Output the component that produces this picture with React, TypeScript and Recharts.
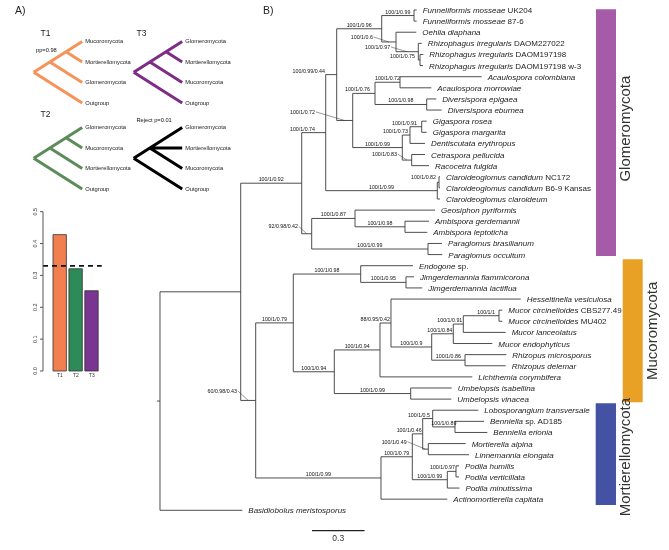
import React from 'react';
import {
  ComposedChart, Line, Scatter, XAxis, YAxis, ReferenceArea, ReferenceLine,
  BarChart, Bar, Cell,
} from 'recharts';

const FONT = '"Liberation Sans", Arial, Helvetica, sans-serif';

// ---------------- Panel A : topology test ----------------
const topologyNames = ['T1', 'T2', 'T3'];
const topologyProbs = [0.428, 0.321, 0.252];
const topologyFills = ['#F27F4F', '#2E8A58', '#7A3492'];
const expectedProb = 0.33;
const probTicks = [0, 0.1, 0.2, 0.3, 0.4, 0.5];

const miniTitles = ['T1', 'T3', 'T2', ''];
const miniNotes = ['pp=0.98', '', '', 'Reject p=0.01'];
const miniColors = ['#F6935A', '#7E2C86', '#5B8C5A', '#000000'];
const miniTopologies: any[] = [
  [[['Mucoromycota', 'Mortierellomycota'], 'Glomeromycota'], 'Outgroup'],
  [[['Glomeromycota', 'Mortierellomycota'], 'Mucoromycota'], 'Outgroup'],
  [[['Glomeromycota', 'Mucoromycota'], 'Mortierellomycota'], 'Outgroup'],
  [['Glomeromycota', 'Mortierellomycota', 'Mucoromycota'], 'Outgroup'],
];

// ---------------- Panel B : phylogeny ----------------
const tipNames = [
  'Funneliformis mosseae', 'Funneliformis mosseae', 'Oehlia diaphana',
  'Rhizophagus irregularis', 'Rhizophagus irregularis', 'Rhizophagus irregularis',
  'Acaulospora colombiana', 'Acaulospora morrowiae', 'Diversispora epigaea',
  'Diversispora eburnea', 'Gigaspora rosea', 'Gigaspora margarita',
  'Dentiscutata erythropus', 'Cetraspora pellucida', 'Racocetra fulgida',
  'Claroideoglomus candidum', 'Claroideoglomus candidum', 'Claroideoglomus claroideum',
  'Geosiphon pyriformis', 'Ambispora gerdemannii', 'Ambispora leptoticha',
  'Paraglomus brasilianum', 'Paraglomus occultum', 'Endogone',
  'Jimgerdemannia flammicorona', 'Jimgerdemannia lactiflua', 'Hesseltinella vesiculosa',
  'Mucor circinelloides', 'Mucor circinelloides', 'Mucor lanceolatus',
  'Mucor endophyticus', 'Rhizopus microsporus', 'Rhizopus delemar',
  'Lichthemia corymbifera', 'Umbelopsis isabellina', 'Umbelopsis vinacea',
  'Lobosporangium transversale', 'Benniella', 'Benniella erionia',
  'Mortierella alpina', 'Linnemannia elongata', 'Podila humilis',
  'Podila verticillata', 'Podila minutissima', 'Actinomortierella capitata',
  'Basidiobolus meristosporus',
];
const tipSuffixes = [
  ' UK204', ' 87-6', '', ' DAOM227022', ' DAOM197198', ' DAOM197198 w-3',
  '', '', '', '', '', '', '', '', '', ' NC172', ' B6-9 Kansas', '', '', '', '', '', '',
  ' sp.', '', '', '', ' CBS277.49', ' MU402', '', '', '', '', '', '', '',
  '', ' sp. AD185', '', '', '', '', '', '', '', '',
];
const tipParents = [
  'funn', 'funn', 'gC', 'rhiz', 'rhiz2', 'rhiz2', 'acau', 'acau', 'div', 'div',
  'giga', 'giga', 'gG', 'gH', 'gH', 'clar2', 'clar2', 'clar', 'gGA', 'amb', 'amb',
  'para', 'para', 'endo', 'jimg', 'jimg', 'm88', 'circ', 'circ', 'mucor2', 'mucor',
  'rhizo', 'rhizo', 'mu2a', 'umb', 'umb', 'm05', 'benn', 'benn', 'm049', 'm049',
  'podi2', 'podi2', 'podi', 'mort', 'root',
];
const tipDepths = [
  1.4643, 1.4643, 1.4621, 1.4929, 1.5020, 1.5003, 1.8352, 1.5476, 1.5762, 1.6070,
  1.5214, 1.5214, 1.5117, 1.5117, 1.5345, 1.5973, 1.5973, 1.5973, 1.5687, 1.5345,
  1.5248, 1.6087, 1.6104, 1.4432, 1.4489, 1.4963, 2.0576, 1.9527, 1.9527, 1.9721,
  1.8956, 1.9755, 1.9721, 1.7815, 1.6640, 1.6617, 1.8158, 1.8483, 1.8671, 1.7439,
  1.7627, 1.7057, 1.7057, 1.7085, 1.6389, 0.4695,
];
const nodeIds = [
  'root', 'n1', 'glom', 'gA', 'gB', 'gB1', 'funn', 'gC', 'rhiz', 'rhiz2',
  'gD', 'gE', 'acau', 'div', 'gF', 'gG', 'giga', 'gH', 'clar', 'clar2',
  'g92', 'gGA', 'amb', 'para', 'mm', 'muco', 'endo', 'jimg', 'mu2', 'mu2a',
  'm88', 'mucrh', 'mucor', 'mucor2', 'circ', 'rhizo', 'umb', 'mort', 'm1', 'm2',
  'm05', 'benn', 'm049', 'podi', 'podi2',
];
const nodeParents = [
  '', 'root', 'n1', 'glom', 'gA', 'gB', 'gB1', 'gB1', 'gC', 'rhiz',
  'gB', 'gD', 'gE', 'gE', 'gD', 'gF', 'gG', 'gF', 'gA', 'clar',
  'glom', 'g92', 'gGA', 'g92', 'n1', 'mm', 'muco', 'endo', 'muco', 'mu2',
  'mu2a', 'm88', 'mucrh', 'mucor', 'mucor2', 'mucrh', 'mu2', 'mm', 'mort', 'm1',
  'm2', 'm05', 'm2', 'm1', 'podi',
];
const nodeDepths = [
  0, 0.4604, 0.8083, 0.9453, 1.0080, 1.2647, 1.4490, 1.3463, 1.4735, 1.4832,
  1.0993, 1.2265, 1.3691, 1.5214, 1.3822, 1.4261, 1.4929, 1.4358, 1.5818, 1.5916,
  0.8654, 1.1124, 1.3976, 1.5288, 0.5459, 0.7604, 1.1449, 1.4033, 0.9943, 1.2550,
  1.3177, 1.5499, 1.6731, 1.7302, 1.9338, 1.7399, 1.4301, 1.2607, 1.4393, 1.4986,
  1.5556, 1.6828, 1.5305, 1.6389, 1.6885,
];
const nodeSupports = [
  '', '', '100/1/0.92', '100/1/0.74', '100/0.99/0.44', '100/1/0.96', '100/1/0.99', '100/1/0.6', '100/1/0.97', '100/1/0.75',
  '100/1/0.72', '100/1/0.76', '100/1/0.72', '100/1/0.98', '100/1/0.99', '100/1/0.73', '100/1/0.91', '100/1/0.83', '100/1/0.99', '100/1/0.82',
  '92/0.98/0.42', '100/1/0.87', '100/1/0.98', '100/1/0.99', '60/0.98/0.43', '100/1/0.79', '100/1/0.98', '100/1/0.95', '100/1/0.94', '100/1/0.94',
  '88/0.95/0.42', '100/1/0.9', '100/1/0.84', '100/1/0.91', '100/1/1', '100/1/0.86', '100/1/0.99', '100/1/0.99', '100/1/0.79', '100/1/0.46',
  '100/1/0.5', '100/1/0.89', '100/1/0.49', '100/1/0.99', '100/1/0.97',
];
const rootEdge = 0.017;
const scaleBarLength = 0.3;
const scaleBarStart = 0.8669;
const scaleBarRow = 46.83;

const cladeNames = ['Glomeromycota', 'Mucoromycota', 'Mortierellomycota'];
const cladeColors = ['#A55BA7', '#E9A125', '#4352A3'];
const cladeFrom = [-0.06, 22.42, 35.38];
const cladeTo = [22.13, 35.29, 44.52];
const cladeX1 = [2.4872, 2.6395, 2.4855];
const cladeX2 = [2.6012, 2.7536, 2.6012];

// ---------------- label placement (style only) ----------------
const labelLayout: Record<string, { m: 'c' | 'e' | 'l'; dx?: number; dy?: number }> = {
  gA: { m: 'e', dx: -10.7 },
  gB: { m: 'e', dx: -11.7 },
  gC: { m: 'l', dx: -16, dy: -5 },
  rhiz: { m: 'l', dx: -17, dy: -4.7 },
  rhiz2: { m: 'e', dx: -5 },
  gD: { m: 'l', dx: -29.7, dy: -8.6 },
  gE: { m: 'e', dx: -5 },
  gG: { m: 'e', dx: -2 },
  giga: { m: 'e', dx: -4.7 },
  gH: { m: 'l', dx: -10, dy: -6 },
  clar2: { m: 'e', dx: -3, dy: -3.5 },
  g92: { m: 'l', dx: -8.7, dy: -7.3 },
  mm: { m: 'l', dx: -11.2, dy: -9.5 },
  m88: { m: 'e', dx: -1 },
  mucor: { m: 'e', dx: -1 },
  mucor2: { m: 'e', dx: -1 },
  circ: { m: 'e', dx: -4 },
  m2: { m: 'e', dx: -1 },
  m05: { m: 'e', dx: -2.7 },
  m049: { m: 'l', dx: -18.8, dy: -7.3 },
  podi2: { m: 'e', dx: -1 },
};

// ---------------- tree layout ----------------
const nodeIndex: Record<string, number> = {};
nodeIds.forEach((id, i) => { nodeIndex[id] = i; });
const children: { tip: boolean; i: number }[][] = nodeIds.map(() => []);
tipParents.forEach((p, i) => children[nodeIndex[p]].push({ tip: true, i }));
nodeParents.forEach((p, i) => { if (p) children[nodeIndex[p]].push({ tip: false, i }); });
const nodeY: number[] = [];
const childY = (c: { tip: boolean; i: number }): number => (c.tip ? c.i : getNodeY(c.i));
function getNodeY(i: number): number {
  if (nodeY[i] !== undefined) return nodeY[i];
  const ys = children[i].map(childY);
  nodeY[i] = (Math.min(...ys) + Math.max(...ys)) / 2;
  return nodeY[i];
}
nodeIds.forEach((_, i) => getNodeY(i));

const treeSegments: { x: number; y: number | null }[] = [];
const pushSeg = (x1: number, y1: number, x2: number, y2: number) => {
  treeSegments.push({ x: x1, y: y1 }, { x: x2, y: y2 }, { x: x2, y: null });
};
pushSeg(-rootEdge, nodeY[0], 0, nodeY[0]);
nodeIds.forEach((_, i) => {
  const ch = children[i];
  const ys = ch.map(childY);
  const d = nodeDepths[i];
  pushSeg(d, Math.min(...ys), d, Math.max(...ys));
  ch.forEach((c) => {
    const cy = childY(c);
    const cx = c.tip ? tipDepths[c.i] : nodeDepths[c.i];
    pushSeg(d, cy, cx, cy);
  });
});

const tipData = tipNames.map((n, i) => ({ x: tipDepths[i], y: i, name: n, suffix: tipSuffixes[i] }));
const supportData = nodeIds
  .map((id, i) => {
    if (!nodeSupports[i]) return null;
    const pd = nodeDepths[nodeIndex[nodeParents[i]]];
    const lay = labelLayout[id] || { m: 'c' };
    const x = lay.m === 'e' ? nodeDepths[i] : (pd + nodeDepths[i]) / 2;
    return { x, y: nodeY[i], label: nodeSupports[i], lay };
  })
  .filter(Boolean) as any[];

// ---------------- mini cladograms ----------------
function cladogram(topo: any) {
  const segs: { x: number; y: number | null }[] = [];
  const tips: { x: number; y: number; name: string }[] = [];
  let count = 0;
  const countTips = (t: any): number => (typeof t === 'string' ? 1 : t.reduce((s: number, c: any) => s + countTips(c), 0));
  const half = (countTips(topo) - 1) / 2;
  const place = (t: any): { x: number; y: number; lo: number; hi: number } => {
    if (typeof t === 'string') {
      const y = count++;
      tips.push({ x: 1, y, name: t });
      return { x: 1, y, lo: y, hi: y };
    }
    const ch = t.map(place);
    const lo = ch[0].lo;
    const hi = ch[ch.length - 1].hi;
    const y = (lo + hi) / 2;
    const x = 1 - (hi - lo) / 2 / half;
    ch.forEach((c: any) => segs.push({ x, y }, { x: c.x, y: c.y }, { x: c.x, y: null }));
    return { x, y, lo, hi };
  };
  place(topo);
  return { segs, tips };
}

const UX = 48.5;
const UY = 20.5;
const miniPlacement = [
  { rx: 33.3, ty: 41 },
  { rx: 133.3, ty: 41 },
  { rx: 33.3, ty: 127.3 },
  { rx: 133.3, ty: 127 },
];
const titlePlacement = [
  { x: 40.5, y: 35.5 }, { x: 136.5, y: 35.5 }, { x: 40.5, y: 116.5 }, { x: 0, y: 0 },
];
const notePlacement = [
  { x: 36, y: 52 }, { x: 0, y: 0 }, { x: 0, y: 0 }, { x: 136.5, y: 121.5 },
];

const MiniTipLabel = (props: any) => {
  const { cx, cy, payload } = props;
  return (
    <text x={cx + 3} y={cy} dominantBaseline="central" fontSize={5.8} fontFamily={FONT} fill="#222">
      {payload.name}
    </text>
  );
};

function MiniTree({ idx }: { idx: number }) {
  const { segs, tips } = cladogram(miniTopologies[idx]);
  const pl = miniPlacement[idx];
  return (
    <div style={{ position: 'absolute', left: pl.rx - 0.2 * UX, top: pl.ty - UY }}>
      <ComposedChart width={2.6 * UX} height={5 * UY} margin={{ top: 0, right: 0, bottom: 0, left: 0 }}>
        <XAxis type="number" dataKey="x" domain={[-0.2, 2.4]} hide allowDataOverflow />
        <YAxis type="number" dataKey="y" domain={[-1, 4]} reversed hide allowDataOverflow />
        <Line
          data={segs}
          dataKey="y"
          type="linear"
          stroke={miniColors[idx]}
          strokeWidth={3}
          dot={false}
          activeDot={false}
          connectNulls={false}
          isAnimationActive={false}
        />
        <Scatter data={tips} shape={MiniTipLabel} isAnimationActive={false} />
      </ComposedChart>
    </div>
  );
}

// ---------------- shapes ----------------
const TreeTipLabel = (props: any) => {
  const { cx, cy, payload } = props;
  return (
    <text x={cx + 6} y={cy} dominantBaseline="central" fontSize={8} fontFamily={FONT} fill="#222" style={{ whiteSpace: 'pre' }}>
      <tspan fontStyle="italic" fill="#222">{payload.name}</tspan>
      {payload.suffix ? <tspan fontStyle="normal" fill="#222">{payload.suffix}</tspan> : null}
    </text>
  );
};

const SupportLabel = (props: any) => {
  const { cx, cy, payload } = props;
  const lay = payload.lay;
  const common = { fontSize: 5.3, fontFamily: FONT, fill: '#111' };
  if (lay.m === 'c') {
    return <text x={cx} y={cy - 2} textAnchor="middle" {...common}>{payload.label}</text>;
  }
  if (lay.m === 'e') {
    return <text x={cx + lay.dx} y={cy + (lay.dy ?? -2)} textAnchor="end" {...common}>{payload.label}</text>;
  }
  const tx = cx + lay.dx;
  const ty = cy + lay.dy;
  return (
    <g>
      <text x={tx} y={ty} textAnchor="end" dominantBaseline="central" {...common}>{payload.label}</text>
      <line x1={tx + 0.8} y1={ty} x2={cx} y2={cy} stroke="#333" strokeWidth={0.5} />
    </g>
  );
};

const ProbTick = (props: any) => {
  const { x, y, payload } = props;
  const cx = x - 3;
  return (
    <text x={cx} y={y} transform={`rotate(-90 ${cx} ${y})`} textAnchor="middle" dominantBaseline="central" fontSize={5.5} fontFamily={FONT} fill="#333">
      {Number(payload.value).toFixed(1)}
    </text>
  );
};

const barData = topologyNames.map((n, i) => ({ name: n, p: topologyProbs[i] }));

export default function App() {
  return (
    <div style={{ position: 'absolute', left: 0, top: 0, width: 669, height: 550, background: '#fff', overflow: 'hidden' }}>
      {/* Panel B tree */}
      <div style={{ position: 'absolute', left: 0, top: 0, willChange: 'transform', background: '#fff' }}>
        <ComposedChart width={669} height={550} margin={{ top: 0, right: 0, bottom: 0, left: 0 }}>
          <XAxis type="number" dataKey="x" domain={[-0.9127, 2.9036]} hide allowDataOverflow />
          <YAxis type="number" dataKey="y" domain={[-0.8994, 48.5724]} reversed hide allowDataOverflow />
          {cladeNames.map((name, i) => (
            <ReferenceArea
              key={name}
              x1={cladeX1[i]}
              x2={cladeX2[i]}
              y1={cladeFrom[i]}
              y2={cladeTo[i]}
              fill={cladeColors[i]}
              fillOpacity={1}
              stroke="none"
              ifOverflow="visible"
              label={(p: any) => {
                const vb = p.viewBox;
                const shift = [-4, 0, 3][i];
                const lx = vb.x + vb.width + 9;
                const ly = vb.y + vb.height / 2 + shift;
                return (
                  <text x={lx} y={ly} transform={`rotate(-90 ${lx} ${ly})`} textAnchor="middle" dominantBaseline="central" fontSize={15} fontFamily={FONT} fill="#333">
                    {name}
                  </text>
                );
              }}
            />
          ))}
          <Line
            data={treeSegments}
            dataKey="y"
            type="linear"
            stroke="#3a3a3a"
            strokeWidth={0.9}
            dot={false}
            activeDot={false}
            connectNulls={false}
            isAnimationActive={false}
          />
          <Scatter data={tipData} shape={TreeTipLabel} isAnimationActive={false} />
          <Scatter data={supportData} shape={SupportLabel} isAnimationActive={false} />
          <ReferenceLine
            segment={[{ x: scaleBarStart, y: scaleBarRow }, { x: scaleBarStart + scaleBarLength, y: scaleBarRow }]}
            stroke="#222"
            strokeWidth={1.2}
            ifOverflow="visible"
            label={{ value: String(scaleBarLength), position: 'bottom', offset: 4, fontSize: 8.5, fill: '#333', fontFamily: FONT }}
          />
        </ComposedChart>
      </div>

      {/* Panel A mini trees */}
      {miniTopologies.map((_, i) => <MiniTree key={i} idx={i} />)}

      {/* Panel A bar chart */}
      <div style={{ position: 'absolute', left: 0, top: 200 }}>
        <BarChart width={110} height={190} data={barData} margin={{ top: 11.7, right: 8.3, left: 0, bottom: 9 }}>
          <XAxis
            dataKey="name"
            axisLine={false}
            tickLine={false}
            tickSize={1}
            tickMargin={1}
            padding={{ left: 9, right: 2 }}
            height={10}
            interval={0}
            tick={{ fontSize: 5, fill: '#333', fontFamily: FONT }}
          />
          <YAxis
            type="number"
            domain={[0, 0.5]}
            ticks={probTicks}
            width={43}
            tickSize={3}
            tickMargin={2}
            axisLine={{ stroke: '#555', strokeWidth: 1 }}
            tickLine={{ stroke: '#555', strokeWidth: 1 }}
            tick={<ProbTick />}
            interval={0}
          />
          <Bar dataKey="p" barSize={13.4} stroke="#333" strokeWidth={0.8} isAnimationActive={false}>
            {barData.map((d, i) => <Cell key={d.name} fill={topologyFills[i]} />)}
          </Bar>
          <ReferenceLine y={expectedProb} stroke="#111" strokeWidth={1.8} strokeDasharray="5 4" ifOverflow="visible" />
        </BarChart>
      </div>

      {/* panel annotations */}
      <svg width={669} height={550} style={{ position: 'absolute', left: 0, top: 0, pointerEvents: 'none' }}>
        <text x={15} y={13.5} fontSize={10.5} fontFamily={FONT} fill="#222">A)</text>
        <text x={263} y={13.5} fontSize={10.5} fontFamily={FONT} fill="#222">B)</text>
        {miniTitles.map((t, i) => t ? (
          <text key={'t' + i} x={titlePlacement[i].x} y={titlePlacement[i].y} fontSize={8.5} fontFamily={FONT} fill="#222">{t}</text>
        ) : null)}
        {miniNotes.map((t, i) => t ? (
          <text key={'n' + i} x={notePlacement[i].x} y={notePlacement[i].y} fontSize={5.7} fontFamily={FONT} fill="#111">{t}</text>
        ) : null)}
      </svg>
    </div>
  );
}
